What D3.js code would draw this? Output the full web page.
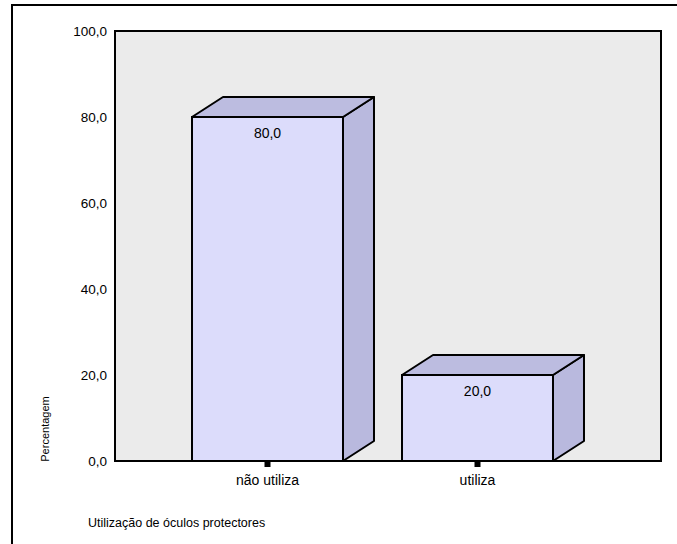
<!DOCTYPE html>
<html>
<head>
<meta charset="utf-8">
<script src="https://cdn.jsdelivr.net/npm/d3@7"></script>
<style>
  body { margin: 0; background: #fff; }
  svg { display: block; font-family: "Liberation Sans", Arial, sans-serif; }
</style>
</head>
<body>
<svg id="chart" width="677" height="544"></svg>
<script>
// Percentage of respondents by use of protective goggles
const categories = ["não utiliza", "utiliza"];
const values = [80.0, 20.0];
const yTicks = [0, 20, 40, 60, 80, 100];
const yTitle = "Percentagem";
const xTitle = "Utilização de óculos protectores";

const svg = d3.select("#chart");
const fmt = v => d3.format(".1f")(v).replace(".", ",");

// plot frame
const plot = { left: 115, top: 31, right: 661, bottom: 461 };
const depth = { dx: 31, dy: 20 };

// outer panel border (open to the right and bottom)
svg.append("rect")
  .attr("x", 12).attr("y", 5)
  .attr("width", 700).attr("height", 600)
  .attr("fill", "#fff").attr("stroke", "#000").attr("stroke-width", 2);

svg.append("rect")
  .attr("x", plot.left).attr("y", plot.top)
  .attr("width", plot.right - plot.left).attr("height", plot.bottom - plot.top)
  .attr("fill", "#ebebeb").attr("stroke", "#000").attr("stroke-width", 2);

const y = d3.scaleLinear().domain([0, 100]).range([plot.bottom, plot.top]);
const x = d3.scaleBand().domain(categories)
  .range([plot.left, 630]).paddingInner(0.281).paddingOuter(0.3667);

// y axis labels
const yAxis = d3.axisLeft(y).tickValues(yTicks).tickSize(0).tickPadding(8).tickFormat(fmt);
const gy = svg.append("g").attr("transform", `translate(${plot.left},0)`).call(yAxis);
gy.select(".domain").remove();
gy.selectAll("text").attr("font-size", 13.5).attr("fill", "#000")
  .attr("font-family", "Liberation Sans, Arial, sans-serif");

// 3D bars
const bars = svg.append("g");
categories.forEach((c, i) => {
  const x0 = x(c), x1 = x(c) + x.bandwidth();
  const yt = y(values[i]), yb = y(0);
  const g = bars.append("g");
  // right side face
  g.append("path")
    .attr("d", `M${x1},${yt} L${x1 + depth.dx},${yt - depth.dy} L${x1 + depth.dx},${yb - depth.dy} L${x1},${yb} Z`)
    .attr("fill", "#b9b9de").attr("stroke", "#000").attr("stroke-width", 2).attr("stroke-linejoin", "round");
  // top face
  g.append("path")
    .attr("d", `M${x0},${yt} L${x0 + depth.dx},${yt - depth.dy} L${x1 + depth.dx},${yt - depth.dy} L${x1},${yt} Z`)
    .attr("fill", "#bcbce0").attr("stroke", "#000").attr("stroke-width", 2).attr("stroke-linejoin", "round");
  // front face
  g.append("rect")
    .attr("x", x0).attr("y", yt).attr("width", x1 - x0).attr("height", yb - yt)
    .attr("fill", "#dcdcfb").attr("stroke", "#000").attr("stroke-width", 2);
  // value label
  g.append("text")
    .attr("x", (x0 + x1) / 2).attr("y", yt + 21)
    .attr("text-anchor", "middle").attr("font-size", 14).attr("fill", "#000")
    .text(fmt(values[i]));
});

// baseline redraw
svg.append("line")
  .attr("x1", plot.left).attr("x2", plot.right)
  .attr("y1", plot.bottom).attr("y2", plot.bottom)
  .attr("stroke", "#000").attr("stroke-width", 2);

// x axis ticks and labels
const xAxis = d3.axisBottom(x).tickSize(0).tickPadding(14);
const gx = svg.append("g").attr("transform", `translate(0,${plot.bottom})`).call(xAxis);
gx.select(".domain").remove();
gx.selectAll("text").attr("font-size", 14).attr("fill", "#000")
  .attr("font-family", "Liberation Sans, Arial, sans-serif");
gx.selectAll(".tick").append("rect")
  .attr("x", -3).attr("y", 1).attr("width", 6).attr("height", 5).attr("fill", "#000");

// axis titles
svg.append("text")
  .attr("transform", `translate(49,${plot.bottom - 32}) rotate(-90)`)
  .attr("text-anchor", "middle").attr("font-size", 11).attr("fill", "#000")
  .text(yTitle);

svg.append("text")
  .attr("x", 88).attr("y", 527)
  .attr("font-size", 12.5).attr("fill", "#000")
  .text(xTitle);
</script>
</body>
</html>
